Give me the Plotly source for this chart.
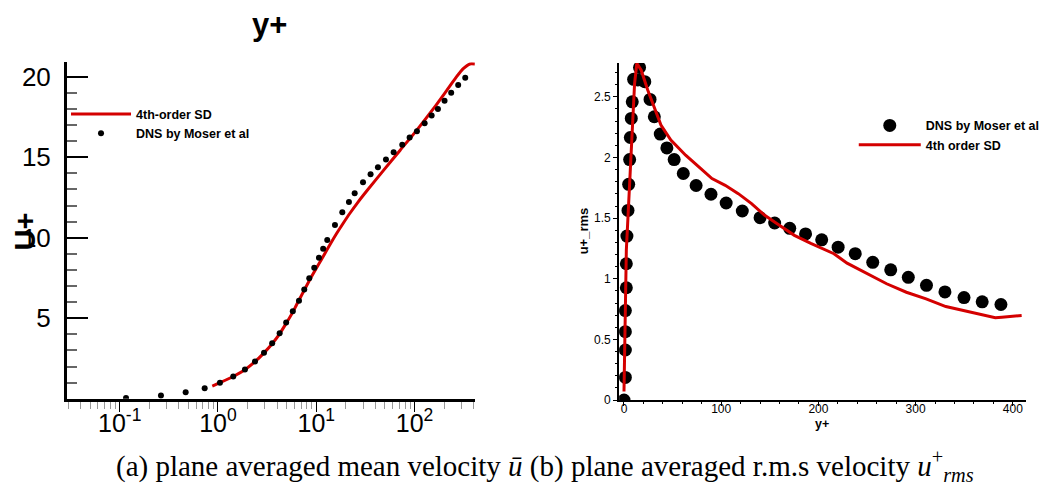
import plotly.graph_objects as go

# ---------------- Data: (a) mean velocity ----------------
dns_u_yplus = [0.116, 0.263, 0.469, 0.732, 1.047, 1.43, 1.88, 2.38, 2.94, 3.56, 4.24, 4.94,
               5.77, 6.67, 7.55, 8.49, 9.54, 10.65, 11.75, 12.94, 15.5, 18.4, 21.5, 24.6,
               29.9, 35.7, 42.4, 51.2, 61.3, 75.0, 89.1, 105.7, 126.7, 149.3, 173, 202,
               236, 278, 328]
dns_u_uplus = [0.04, 0.2, 0.4, 0.66, 0.99, 1.38, 1.81, 2.31, 2.85, 3.45, 4.07, 4.74,
               5.43, 6.09, 6.79, 7.49, 8.13, 8.75, 9.31, 9.86, 10.79, 11.58, 12.22, 12.77,
               13.44, 13.95, 14.38, 14.86, 15.31, 15.77, 16.22, 16.61, 17.11, 17.59, 18.0,
               18.51, 19.01, 19.49, 19.94]

sd_u_yplus = [0.875, 1.05, 1.43, 1.88, 2.38, 2.94, 3.56, 4.24, 4.94, 5.77, 6.32, 8.63,
              11.8, 14.0, 16.1, 18.8, 22.0, 26.5, 32.6, 48.1, 71.1, 105, 155, 212, 268,
              313, 366, 411]
sd_u_uplus = [0.79, 1.0, 1.38, 1.80, 2.30, 2.85, 3.42, 4.03, 4.68, 5.38, 5.85, 7.41,
              8.85, 9.64, 10.26, 10.90, 11.52, 12.2, 12.9, 14.17, 15.42, 16.67, 18.0,
              19.14, 20.0, 20.5, 20.79, 20.79]

# ---------------- Data: (b) rms velocity ----------------
dns_rms_yplus = [0, 1.4, 1.4, 1.4, 1.4, 2.4, 2.4, 3.0, 4.1, 4.8, 5.8, 6.5, 7.5, 8.5, 9.9,
                 14.2, 16.0, 21.4, 26.8, 31.2, 37.3, 44.1, 51.6, 61.0, 74.2, 89.5, 105.1,
                 121.7, 140.0, 155.0, 170.5, 186.8, 203.4, 220.3, 237.9, 255.9, 274.4,
                 292.5, 311.2, 330.2, 349.8, 368.5, 387.8]
dns_rms_val = [0, 0.187, 0.413, 0.564, 0.738, 0.926, 1.124, 1.352, 1.564, 1.779, 1.983,
               2.165, 2.322, 2.459, 2.645, 2.64, 2.742, 2.625, 2.479, 2.336, 2.193, 2.079,
               1.983, 1.868, 1.769, 1.697, 1.625, 1.559, 1.504, 1.460, 1.416, 1.370, 1.321,
               1.261, 1.207, 1.136, 1.074, 1.012, 0.946, 0.892, 0.845, 0.810, 0.788]

sd_rms_yplus = [0, 2.4, 4.1, 5.8, 7.5, 9.2, 10.9, 13.2, 17.7, 24.4, 31.2, 38.0, 48.2, 63.4,
                77, 90.5, 104.1, 117.6, 131.2, 144.8, 158.3, 175.3, 192.2, 216, 229.5,
                249.8, 270.2, 290.5, 310.8, 331.1, 351.5, 371.8, 382, 388.8, 409.1]
sd_rms_val = [0.07, 1.234, 1.51, 1.785, 2.06, 2.336, 2.61, 2.777, 2.72, 2.556, 2.405,
              2.267, 2.143, 2.019, 1.922, 1.826, 1.771, 1.702, 1.620, 1.523, 1.45, 1.358,
              1.292, 1.207, 1.129, 1.041, 0.959, 0.889, 0.835, 0.771, 0.732, 0.697, 0.678,
              0.683, 0.697]

left_ticks = [0.1, 1, 10, 100]
left_ticktext = ["10<sup>-1</sup>", "10<sup>0</sup>", "10<sup>1</sup>", "10<sup>2</sup>"]

RED = "#d40000"
OX, OY = 8, 8              # page body margin
SX, SY = 0.9955, 0.984     # observed capture scaling
W, H = 1037, 486


def px(X):
    return (X / SX - OX) / W


def py(Y):
    return 1 - (Y / SY - OY) / H


fig = go.Figure()

fig.add_trace(go.Scatter(x=sd_u_yplus, y=sd_u_uplus, mode="lines", name="4th-order SD",
                         line=dict(color=RED, width=3, shape="spline", smoothing=0.6),
                         xaxis="x", yaxis="y", legend="legend"))
fig.add_trace(go.Scatter(x=dns_u_yplus, y=dns_u_uplus, mode="markers", name="DNS by Moser et al",
                         marker=dict(color="black", size=6), xaxis="x", yaxis="y", legend="legend"))

fig.add_trace(go.Scatter(x=dns_rms_yplus, y=dns_rms_val, mode="markers", name="DNS by Moser et al",
                         marker=dict(color="black", size=13), xaxis="x2", yaxis="y2", legend="legend2"))
fig.add_trace(go.Scatter(x=sd_rms_yplus, y=sd_rms_val, mode="lines", name="4th order SD",
                         line=dict(color=RED, width=3), xaxis="x2", yaxis="y2", legend="legend2"))

minor_log = [m * 10 ** e for e in range(-2, 3) for m in range(2, 10)]

legend_font = dict(size=12.5, family="Liberation Sans, Arial, sans-serif", weight="bold", color="black")

fig.update_layout(
    width=W, height=H,
    margin=dict(l=0, r=0, t=0, b=0),
    paper_bgcolor="white", plot_bgcolor="white",
    font=dict(family="Liberation Sans, Arial, sans-serif", color="black"),
    xaxis=dict(
        type="log", domain=[px(67), px(475)], range=[-1.536, 2.614],
        anchor="y", showgrid=False, zeroline=False,
        showline=True, linecolor="black", linewidth=3,
        ticks="outside", ticklen=10, tickwidth=1, tickcolor="black",
        tickvals=left_ticks, ticktext=left_ticktext, ticklabelstandoff=-10,
        tickfont=dict(size=25),
        minor=dict(tickvals=minor_log, ticks="outside", ticklen=7, tickcolor="#999999", showgrid=False),
    ),
    yaxis=dict(
        domain=[py(398), py(62)], range=[0, 20.9],
        anchor="x", showgrid=False, zeroline=False,
        showline=True, linecolor="black", linewidth=3,
        ticks="inside", ticklen=21, tickwidth=2, tickcolor="black",
        tickvals=[5, 10, 15, 20], tickfont=dict(size=26), ticklabelstandoff=8,
        minor=dict(dtick=1, ticks="inside", ticklen=10, tickcolor="#666666", showgrid=False),
    ),
    xaxis2=dict(
        domain=[px(619.3), px(1026.7)], range=[-5, 414],
        anchor="y2", showgrid=False, zeroline=False,
        showline=True, linecolor="black", linewidth=2,
        ticks="outside", ticklen=4, tickwidth=1, tickcolor="black",
        dtick=100, tick0=0, tickfont=dict(size=12), ticklabelstandoff=-7,
        minor=dict(dtick=20, tick0=0, ticks="outside", ticklen=2, tickcolor="black", showgrid=False),
    ),
    yaxis2=dict(
        domain=[py(399.3), py(62.7)], range=[0, 2.78],
        anchor="x2", showgrid=False, zeroline=False,
        showline=True, linecolor="black", linewidth=2,
        ticks="outside", ticklen=4, tickwidth=1, tickcolor="black",
        dtick=0.5, tick0=0, tickfont=dict(size=12),
        minor=dict(dtick=0.1, tick0=0, ticks="outside", ticklen=2, tickcolor="black", showgrid=False),
    ),
    legend=dict(
        x=px(66), y=py(99), xanchor="left", yanchor="top",
        bgcolor="rgba(0,0,0,0)", font=legend_font,
        itemwidth=60, tracegroupgap=0,
    ),
    legend2=dict(
        x=px(854), y=py(110.5), xanchor="left", yanchor="top",
        bgcolor="rgba(0,0,0,0)", font=legend_font,
        itemwidth=62, tracegroupgap=0,
    ),
    showlegend=True,
)

annotations = [
    dict(text="<b>y+</b>", x=px(270), y=py(24), xanchor="center", yanchor="middle",
         xref="paper", yref="paper", showarrow=False, font=dict(size=31)),
    dict(text="<b>U+</b>", x=px(25), y=py(231), xanchor="center", yanchor="middle",
         xref="paper", yref="paper", showarrow=False, textangle=-90, font=dict(size=29)),
    dict(text="<b>u+_rms</b>", x=px(584), y=py(230), xanchor="center", yanchor="middle",
         xref="paper", yref="paper", showarrow=False, textangle=-90, font=dict(size=13)),
    dict(text="<b>y+</b>", x=px(822), y=py(423.5), xanchor="center", yanchor="middle",
         xref="paper", yref="paper", showarrow=False, font=dict(size=12.5)),
    dict(text="(a) plane averaged mean velocity <i>ū</i> (b) plane averaged r.m.s velocity "
              "<i>u</i><sup>+</sup><sub><i>rms</i></sub>",
         x=px(545), y=py(465), xanchor="center", yanchor="middle",
         xref="paper", yref="paper", showarrow=False,
         font=dict(size=29, family="Liberation Serif, DejaVu Serif, serif")),
]
fig.update_layout(annotations=annotations)

fig.write_html("out.html")
